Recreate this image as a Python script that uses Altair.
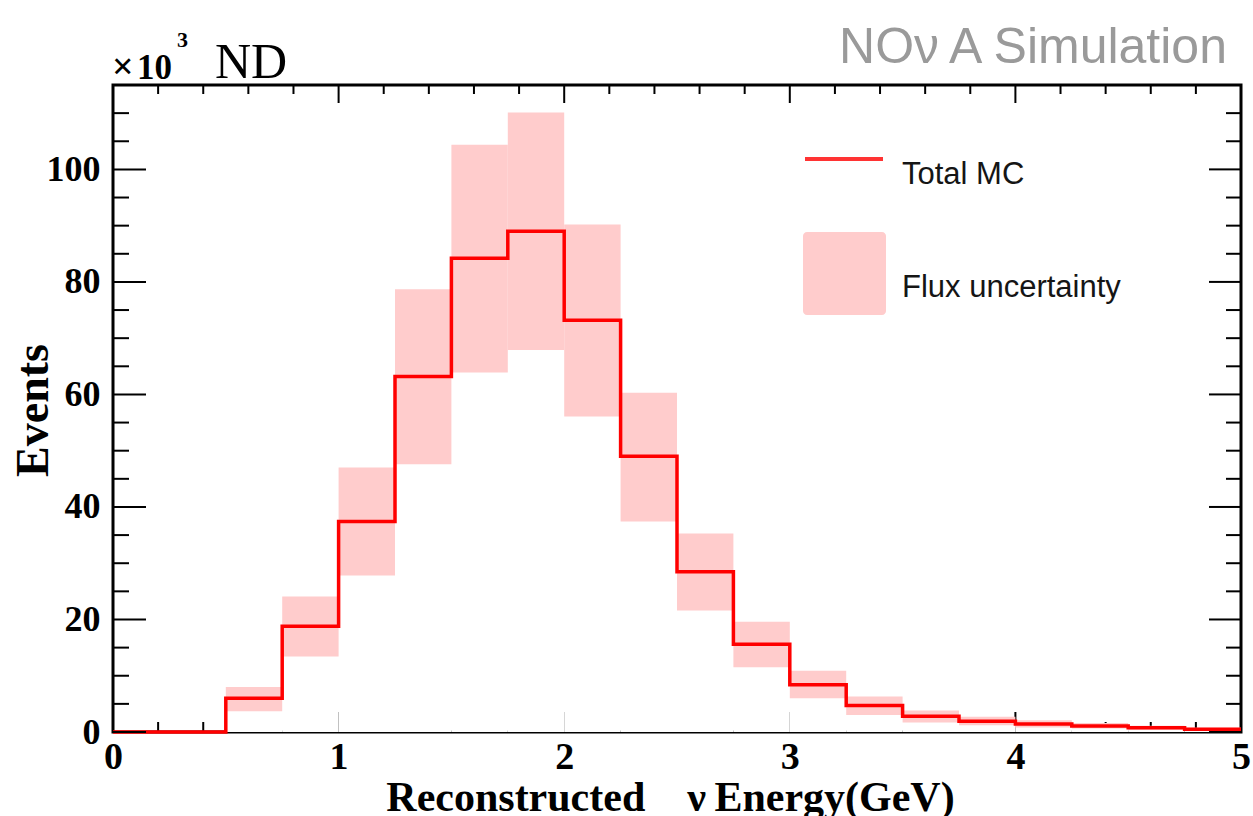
import altair as alt
import pandas as pd

# ---- data (x10^3 events) ----
bin_lo = [0.0, 0.25, 0.5, 0.75, 1.0, 1.25, 1.5, 1.75, 2.0, 2.25,
          2.5, 2.75, 3.0, 3.25, 3.5, 3.75, 4.0, 4.25, 4.5, 4.75]
bin_hi = [0.25, 0.5, 0.75, 1.0, 1.25, 1.5, 1.75, 2.0, 2.25, 2.5,
          2.75, 3.0, 3.25, 3.5, 3.75, 4.0, 4.25, 4.5, 4.75, 5.0]
events = [0.0, 0.0, 6.0, 18.8, 37.4, 63.2, 84.2, 89.0, 73.2, 49.0,
          28.5, 15.6, 8.4, 4.7, 2.8, 1.9, 1.4, 1.05, 0.75, 0.5]
band_lo = [0.0, 0.0, 3.7, 13.4, 27.8, 47.6, 63.9, 67.9, 56.1, 37.4,
           21.6, 11.5, 6.0, 3.0, 1.7, 1.2, 0.8, 0.6, 0.4, 0.25]
band_hi = [0.0, 0.0, 8.0, 24.1, 47.0, 78.7, 104.4, 110.1, 90.2, 60.3,
           35.3, 19.6, 10.9, 6.3, 3.8, 2.7, 2.1, 1.6, 1.1, 0.75]

x_major = [0, 1, 2, 3, 4, 5]
x_minor = [0.2, 0.4, 0.6, 0.8, 1.2, 1.4, 1.6, 1.8, 2.2, 2.4, 2.6, 2.8,
           3.2, 3.4, 3.6, 3.8, 4.2, 4.4, 4.6, 4.8]
y_major = [0, 20, 40, 60, 80, 100]
y_minor = [5, 10, 15, 25, 30, 35, 45, 50, 55, 65, 70, 75, 85, 90, 95, 105, 110]

x_title = "Reconstructed\u00a0\u00a0\u00a0\u00a0\u03bd\u2009Energy(GeV)"
y_title = "Events"
legend_labels = ["Total MC", "Flux uncertainty"]

W, H = 1128, 647

hist = pd.DataFrame({"lo": bin_lo, "hi": bin_hi, "ev": events,
                     "blo": band_lo, "bhi": band_hi})
step = pd.DataFrame({"x": bin_lo + [bin_hi[-1]], "y": events + [events[-1]]})

xs = alt.Scale(domain=[0, 5], nice=False, zero=False)
ys = alt.Scale(domain=[0, 115], nice=False, zero=False)

x_axis = alt.Axis(values=x_major, format="d", ticks=False, domain=False, grid=False,
                  labelFont="Liberation Serif", labelFontWeight="bold", labelFontSize=38,
                  labelColor="black", labelPadding=6, labelOverlap=False, labelFlush=False,
                  title=x_title, titleFont="Liberation Serif", titleFontWeight="bold",
                  titleFontSize=42, titleColor="black", titleX=557, titleY=78,
                  titleAlign="center", titleBaseline="alphabetic", titleAnchor="start")
y_axis = alt.Axis(values=y_major, format="d", ticks=False, domain=False, grid=False,
                  labelFont="Liberation Serif", labelFontWeight="bold", labelFontSize=36,
                  labelColor="black", labelPadding=13, labelOverlap=False, labelFlush=False,
                  title=y_title, titleFont="Liberation Serif", titleFontWeight="bold",
                  titleFontSize=46, titleColor="black", titleX=-66, titleY=325,
                  titleAngle=270, titleAlign="center", titleBaseline="alphabetic",
                  titleAnchor="start")

base = alt.Chart(hist)

# bottom ticks (hidden under histogram fill, as in original)
bx_major = alt.Chart(pd.DataFrame({"v": x_major})).mark_rule(color="black", strokeWidth=2).encode(
    x=alt.X("v:Q", scale=xs, axis=x_axis), y=alt.value(H - 20), y2=alt.value(H))
bx_minor = alt.Chart(pd.DataFrame({"v": x_minor})).mark_rule(color="black", strokeWidth=2).encode(
    x=alt.X("v:Q", scale=xs, axis=x_axis), y=alt.value(H - 10), y2=alt.value(H))

fill = base.mark_rect(color="white").encode(
    x=alt.X("lo:Q", scale=xs, axis=x_axis), x2="hi:Q",
    y=alt.Y("ev:Q", scale=ys, axis=y_axis), y2=alt.datum(0))

band = base.mark_rect(color="#ffcccc").encode(
    x=alt.X("lo:Q", scale=xs, axis=x_axis), x2="hi:Q",
    y=alt.Y("blo:Q", scale=ys, axis=y_axis), y2="bhi:Q")

line = alt.Chart(step).mark_line(color="#ff0000", strokeWidth=3.5, interpolate="step-after",
                                 strokeJoin="miter", strokeCap="butt").encode(
    x=alt.X("x:Q", scale=xs, axis=x_axis), y=alt.Y("y:Q", scale=ys, axis=y_axis))

tx_major = alt.Chart(pd.DataFrame({"v": x_major})).mark_rule(color="black", strokeWidth=2).encode(
    x=alt.X("v:Q", scale=xs, axis=x_axis), y=alt.value(0), y2=alt.value(18))
tx_minor = alt.Chart(pd.DataFrame({"v": x_minor})).mark_rule(color="black", strokeWidth=2).encode(
    x=alt.X("v:Q", scale=xs, axis=x_axis), y=alt.value(0), y2=alt.value(9))

ly_major = alt.Chart(pd.DataFrame({"v": y_major})).mark_rule(color="black", strokeWidth=2).encode(
    y=alt.Y("v:Q", scale=ys, axis=y_axis), x=alt.value(0), x2=alt.value(33))
ly_minor = alt.Chart(pd.DataFrame({"v": y_minor})).mark_rule(color="black", strokeWidth=2).encode(
    y=alt.Y("v:Q", scale=ys, axis=y_axis), x=alt.value(0), x2=alt.value(16))
ry_major = alt.Chart(pd.DataFrame({"v": y_major})).mark_rule(color="black", strokeWidth=2).encode(
    y=alt.Y("v:Q", scale=ys, axis=y_axis), x=alt.value(W - 32), x2=alt.value(W))
ry_minor = alt.Chart(pd.DataFrame({"v": y_minor})).mark_rule(color="black", strokeWidth=2).encode(
    y=alt.Y("v:Q", scale=ys, axis=y_axis), x=alt.value(W - 15), x2=alt.value(W))


def label(text, x, y, size, font="Liberation Serif", weight="normal", color="black",
          align="left", baseline="alphabetic"):
    return alt.Chart(pd.DataFrame({"t": [text]})).mark_text(
        font=font, fontSize=size, fontWeight=weight, color=color, align=align,
        baseline=baseline).encode(text="t:N", x=alt.value(x), y=alt.value(y))


times = label("\u00d7", -1, -6, 38, weight="bold")
ten = label("10", 24, -6, 35, weight="bold")
exp3 = label("3", 64, -38, 22, weight="bold")
nd = label("ND", 102, -7, 50)
nova = label("NO\u03bd\u2009A Simulation", 1114, -22, 50, font="Liberation Sans",
             color="#9a9a9a", align="right")

leg_line = alt.Chart(pd.DataFrame({"t": [legend_labels[0]]})).mark_rule(
    color="#ff3333", strokeWidth=4).encode(x=alt.value(692), x2=alt.value(770), y=alt.value(74))
leg_box = alt.Chart(pd.DataFrame({"t": [legend_labels[1]]})).mark_rect(
    color="#ffcccc", cornerRadius=4).encode(x=alt.value(690), x2=alt.value(773),
                                            y=alt.value(147), y2=alt.value(230))
leg_t1 = label(legend_labels[0], 789, 99, 31, font="Liberation Sans", color="#151515")
leg_t2 = label(legend_labels[1], 789, 212, 31, font="Liberation Sans", color="#151515")

chart = alt.layer(
    bx_major, bx_minor, fill, band, line,
    tx_major, tx_minor, ly_major, ly_minor, ry_major, ry_minor,
    times, ten, exp3, nd, nova, leg_line, leg_box, leg_t1, leg_t2
).properties(
    width=W, height=H,
    autosize=alt.AutoSizeParams(type="none"),
    padding={"left": 113, "top": 85, "right": 12, "bottom": 84},
    background="white",
).configure_view(stroke="black", strokeWidth=3)

chart.save("out.html", embed_options={"renderer": "svg", "actions": False})
